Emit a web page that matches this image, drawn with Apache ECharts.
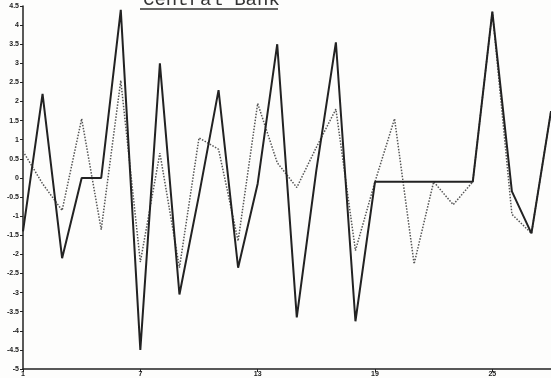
<!DOCTYPE html>
<html>
<head>
<meta charset="utf-8">
<script src="https://cdn.jsdelivr.net/npm/echarts@6/dist/echarts.min.js"></script>
<style>
  html, body { margin: 0; padding: 0; background: #fdfdfc; }
  #chart { width: 551px; height: 378px; }
</style>
</head>
<body>
<div id="chart"></div>
<script>
// periods 1..28
var periods = [];
for (var i = 1; i <= 28; i++) periods.push(String(i));

var solidValues = [-1.4, 2.2, -2.1, 0, 0, 4.4, -4.5, 3.0, -3.05, -0.45,
  2.3, -2.35, -0.15, 3.5, -3.65, 0.2, 3.55, -3.75, -0.1, -0.1,
  -0.1, -0.1, -0.1, -0.1, 4.35, -0.35, -1.45, 1.75];

var dottedValues = [0.7, -0.15, -0.85, 1.55, -1.35, 2.55, -2.2, 0.65, -2.35, 1.05,
  0.75, -1.65, 1.95, 0.4, -0.25, 0.8, 1.8, -1.9, -0.1, 1.55,
  -2.25, -0.1, -0.7, -0.1, 4.35, -0.95, -1.45, 1.75];

var chartTitle = 'Central Bank';

var chart = echarts.init(document.getElementById('chart'));
var option = {
  animation: false,
  backgroundColor: '#fdfdfc',
  title: {
    text: chartTitle,
    left: 138,
    top: -15,
    textStyle: {
      fontFamily: 'Liberation Mono',
      fontSize: 19,
      fontWeight: 'normal',
      color: '#333'
    }
  },
  graphic: [{
    type: 'line',
    shape: { x1: 140, y1: 9, x2: 278, y2: 9 },
    style: { stroke: '#333', lineWidth: 1.5 }
  }],
  grid: { left: 23, right: 0, top: 6, bottom: 9 },
  xAxis: {
    type: 'category',
    data: periods,
    boundaryGap: false,
    axisLine: { onZero: false, lineStyle: { color: '#222', width: 1.5 } },
    axisTick: { interval: 5, length: 3, lineStyle: { color: '#222' } },
    axisLabel: {
      interval: 5,
      margin: 2,
      fontSize: 7,
      fontWeight: 'bold',
      color: '#222'
    },
    splitLine: { show: false }
  },
  yAxis: {
    type: 'value',
    min: -5,
    max: 4.5,
    interval: 0.5,
    axisLine: { show: true, lineStyle: { color: '#222', width: 1.5 } },
    axisTick: { show: true, length: 3, lineStyle: { color: '#222' } },
    axisLabel: {
      margin: 4,
      fontSize: 7,
      fontWeight: 'bold',
      color: '#222'
    },
    splitLine: { show: false }
  },
  series: [{
    name: 'dotted',
    type: 'line',
    data: dottedValues,
    symbol: 'none',
    lineStyle: { color: '#555', width: 1.5, type: 'dotted' }
  }, {
    name: 'solid',
    type: 'line',
    data: solidValues,
    symbol: 'none',
    lineStyle: { color: '#222', width: 2 }
  }]
};
chart.setOption(option);
</script>
</body>
</html>
